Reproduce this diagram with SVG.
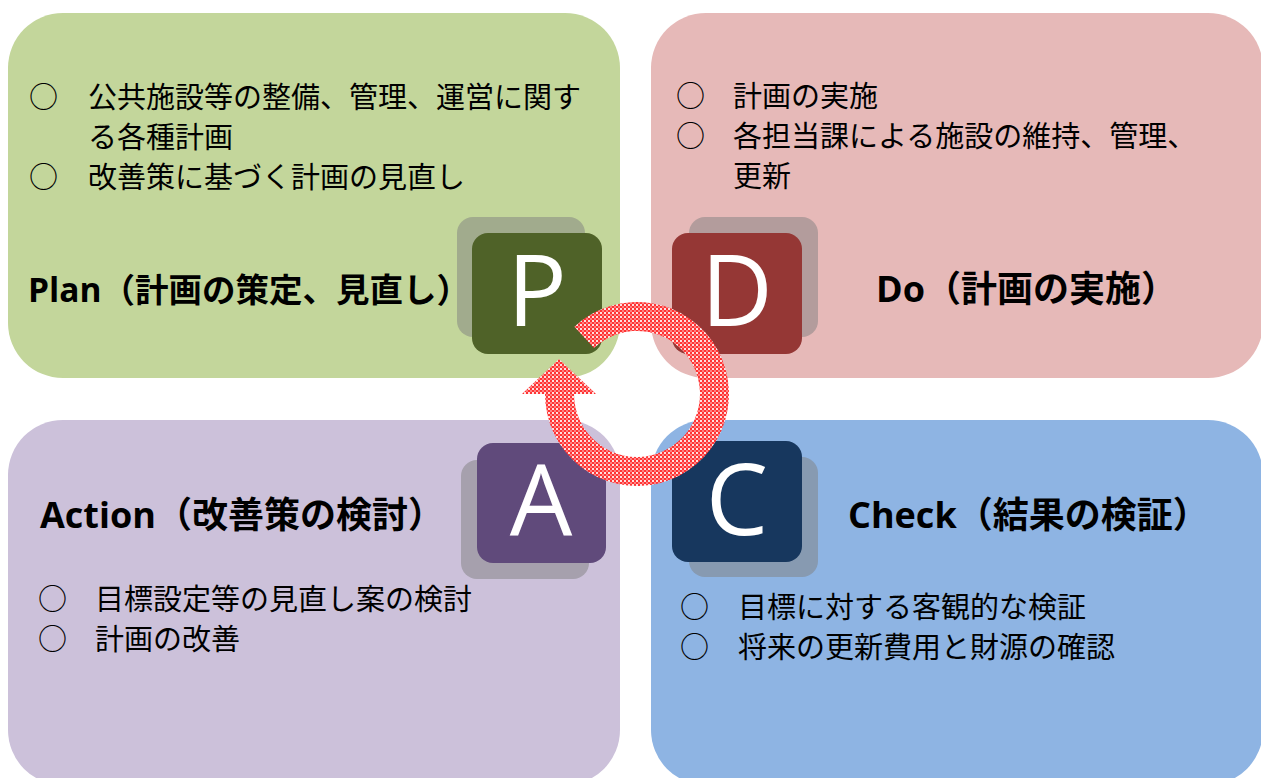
<svg xmlns="http://www.w3.org/2000/svg" width="1261" height="778" viewBox="0 0 1261 778">
  <style>
    .body { font-family: "Noto Sans CJK JP", sans-serif; font-size: 29px; fill: #000; }
    .title { font-family: "Open Sans", "Noto Sans CJK JP", sans-serif; font-weight: bold; font-size: 36px; fill: #000; }
    .letter { font-family: "Open Sans", "Noto Sans", sans-serif; font-size: 99px; fill: #fff; text-anchor: middle; }
    .shadow { fill: #7f7f7f; fill-opacity: 0.5; }
  </style>
  <defs>
    <pattern id="dots" width="4" height="4" patternUnits="userSpaceOnUse">
      <rect width="4" height="4" fill="#ff3434"/>
      <rect x="0" y="0" width="2" height="2" fill="#ffe0e0"/>
      <rect x="2" y="2" width="2" height="2" fill="#ff8080"/>
    </pattern>
  </defs>
  <rect width="1261" height="778" fill="#fff"/>

  <g id="plan">
    <rect x="8" y="13" width="612" height="365" rx="55" fill="#c3d69b"/>
    <text class="body" x="29" y="108">○</text>
    <text class="body" x="88" y="108">公共施設等の整備、管理、運営に関す</text>
    <text class="body" x="88" y="148">る各種計画</text>
    <text class="body" x="29" y="188">○</text>
    <text class="body" x="88" y="188">改善策に基づく計画の見直し</text>
    <text class="title" x="28" y="302" style="font-size:33.5px">Plan（計画の策定、見直し）</text>
    <rect class="shadow" x="457" y="217" width="128" height="120" rx="16"/>
    <rect x="472" y="233" width="130" height="121" rx="16" fill="#4f6228"/>
    <text class="letter" x="537" y="326">P</text>
  </g>

  <g id="do">
    <rect x="651" y="13" width="612" height="365" rx="55" fill="#e6b9b8"/>
    <text class="body" x="676" y="107">○</text>
    <text class="body" x="733" y="107">計画の実施</text>
    <text class="body" x="676" y="147">○</text>
    <text class="body" x="733" y="147">各担当課による施設の維持、管理、</text>
    <text class="body" x="733" y="187">更新</text>
    <text class="title" x="876" y="302">Do（計画の実施）</text>
    <rect class="shadow" x="689" y="217" width="129" height="120" rx="16"/>
    <rect x="672" y="233" width="130" height="121" rx="16" fill="#953735"/>
    <text class="letter" x="737" y="326">D</text>
  </g>

  <g id="action">
    <rect x="8" y="420" width="612" height="365" rx="55" fill="#ccc1da"/>
    <text class="title" x="40" y="528">Action（改善策の検討）</text>
    <text class="body" x="38" y="610">○</text>
    <text class="body" x="95" y="610">目標設定等の見直し案の検討</text>
    <text class="body" x="38" y="650">○</text>
    <text class="body" x="95" y="650">計画の改善</text>
    <rect class="shadow" x="461" y="460" width="128" height="119" rx="16"/>
    <rect x="477" y="443" width="129" height="120" rx="16" fill="#604a7b"/>
    <text class="letter" x="541" y="535">A</text>
  </g>

  <g id="check">
    <rect x="651" y="420" width="612" height="365" rx="55" fill="#8eb4e3"/>
    <text class="title" x="848" y="528">Check（結果の検証）</text>
    <text class="body" x="680" y="618">○</text>
    <text class="body" x="738" y="618">目標に対する客観的な検証</text>
    <text class="body" x="680" y="658">○</text>
    <text class="body" x="738" y="658">将来の更新費用と財源の確認</text>
    <rect class="shadow" x="689" y="457" width="129" height="120" rx="16"/>
    <rect x="672" y="441" width="130" height="121" rx="16" fill="#17375e"/>
    <text class="letter" x="737" y="535">C</text>
  </g>

  <g id="connectors">
    <path d="M574.3,326.7 A92,92 0 1 1 545,394 L522,394 L559,359 L596,394 L574,394 A63,63 0 1 0 594,347.9 Z" fill="url(#dots)"/>
  </g>
</svg>
